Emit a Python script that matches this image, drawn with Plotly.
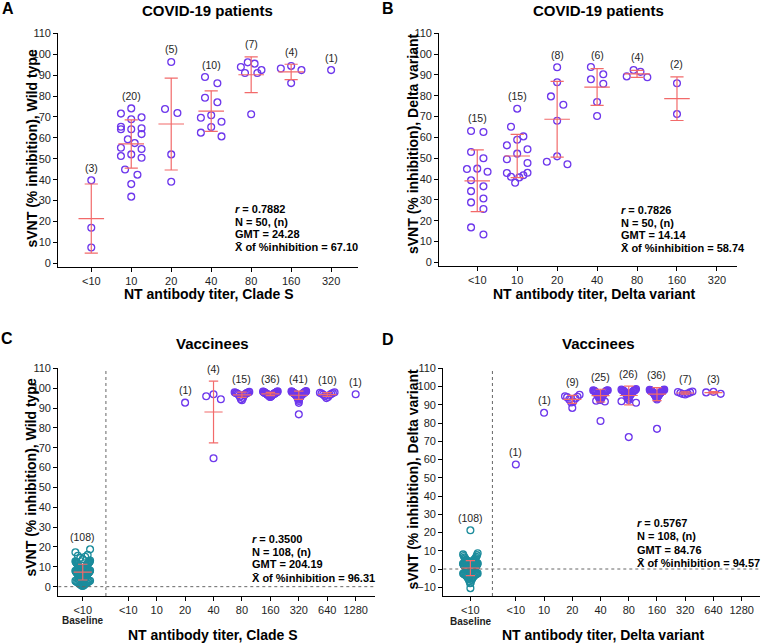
import numpy as np
import plotly.graph_objects as go

FIG_W, FIG_H = 763, 643

# ---------------- data ----------------
A_titers = ["<10", "10", "20", "40", "80", "160", "320"]
A_groups = [
    [39.7, 17.0, 7.6],
    [74.1, 71.6, 69.8, 68.9, 65.3, 64.1, 64.1, 64.6, 61.8, 59.3,
     57.5, 55.3, 54.7, 52.1, 50.5, 51.3, 44.9, 42.4, 37.9, 31.9],
    [96.3, 73.8, 71.9, 52.1, 39.0],
    [89.1, 86.1, 79.2, 77.0, 70.8, 69.6, 67.7, 65.2, 62.5, 60.7],
    [96.1, 95.5, 93.9, 92.4, 91.0, 91.0, 71.3],
    [94.4, 93.2, 92.4, 86.2],
    [92.4],
]
A_stats = ["<b><i>r</i> = 0.7882</b>", "<b>N = 50, (n)</b>", "<b>GMT = 24.28</b>",
           "<b>X\u0304 of %inhibition = 67.10</b>"]

B_titers = ["<10", "10", "20", "40", "80", "160", "320"]
B_groups = [
    [62.6, 63.1, 53.0, 50.0, 45.0, 44.8, 43.5, 39.4, 36.5, 34.2,
     30.7, 28.8, 25.6, 16.8, 13.4],
    [73.8, 65.1, 60.5, 58.9, 56.2, 54.3, 52.2, 49.5, 47.7, 42.9,
     43.0, 41.8, 41.1, 40.8, 38.2],
    [93.7, 86.5, 79.7, 75.7, 68.0, 50.9, 47.1, 48.3],
    [90.3, 93.8, 85.8, 87.9, 77.0, 70.3],
    [91.5, 88.9, 89.3, 92.4],
    [86.0, 71.2],
    [],
]
B_stats = ["<b><i>r</i> = 0.7826</b>", "<b>N = 50, (n)</b>", "<b>GMT = 14.14</b>",
           "<b>X\u0304 of %inhibition = 58.74</b>"]

C_titers = ["<10", "10", "20", "40", "80", "160", "320", "640", "1280"]
C_baseline = [
    18.8, 17.3, 16.0, 15.6, 15.1, 14.5, 13.9, 13.2, 12.8, 12.5, 12.2, 11.9,
    12.6, 12.4, 12.1, 11.9, 11.7, 11.5, 11.3, 11.1, 10.9, 10.7, 10.5, 10.3,
    10.1, 10.0, 9.9, 9.8, 9.7, 9.6, 9.5, 9.4, 9.3, 9.2, 9.1, 9.0,
    8.8, 8.7, 8.6, 8.5, 8.4, 8.3, 8.2, 8.1, 8.0, 7.9, 7.8, 7.7,
    7.6, 7.5, 7.4, 7.3, 7.2, 7.1, 7.0, 6.9, 6.8, 6.7, 6.6, 6.5,
    6.4, 6.3, 6.2, 6.1, 6.0, 5.9, 5.8, 5.7, 5.6, 5.5, 5.4, 5.3,
    5.2, 5.1, 5.0, 4.9, 4.8, 4.7, 4.6, 4.5, 4.4, 4.3, 4.2, 4.1,
    4.0, 3.9, 3.8, 3.7, 3.6, 3.5, 3.4, 3.2, 3.0, 2.9, 2.7, 2.5,
    2.4, 2.2, 2.0, 1.9, 1.7, 1.5, 1.3, 1.1, 0.9, 0.7, 0.5, 0.3,
]
C_groups = [
    [],
    [],
    [92.7],
    [96.9, 95.9, 94.4, 64.7],
    [98.1, 97.9, 97.8, 97.6, 97.6, 97.4, 97.3, 97.1, 96.9, 96.7,
     96.4, 95.7, 95.1, 94.4, 93.9],
    [98.4, 98.3, 98.2, 98.1, 98.0, 98.0, 97.9, 97.8, 97.8, 97.7,
     97.6, 97.6, 97.5, 97.4, 97.4, 97.3, 97.2, 97.2, 97.1, 97.0,
     97.0, 96.9, 96.8, 96.8, 96.7, 96.6, 96.5, 96.4, 96.3, 96.2,
     96.1, 96.0, 95.9, 95.8, 95.7, 95.6],
    [98.5, 98.4, 98.3, 98.2, 98.1, 98.0, 98.0, 97.9, 97.8, 97.8,
     97.7, 97.6, 97.5, 97.5, 97.4, 97.3, 97.2, 97.1, 97.0, 96.9,
     96.9, 96.8, 96.7, 96.6, 96.5, 96.4, 96.3, 96.2, 96.0, 95.8,
     95.6, 95.4, 95.2, 95.0, 94.8, 94.6, 94.2, 93.5, 92.6, 86.8,
     97.6],
    [97.9, 97.7, 97.5, 97.3, 97.1, 96.8, 96.5, 96.1, 95.6, 95.0],
    [96.9],
]
C_stats = ["<b><i>r</i> = 0.3500</b>", "<b>N = 108, (n)</b>", "<b>GMT = 204.19</b>",
           "<b>X\u0304 of %inhibition = 96.31</b>"]

D_titers = ["<10", "10", "20", "40", "80", "160", "320", "640", "1280"]
D_baseline = [
    21.2, 8.6, 8.0, 7.6, 7.1, 6.7, 6.3, 6.0, 5.7, 5.4, 5.1, 4.8,
    4.6, 4.4, 4.2, 4.0, 3.8, 3.6, 3.4, 3.3, 3.1, 3.0, 2.8, 2.7,
    2.5, 2.4, 2.3, 2.1, 2.0, 1.9, 1.8, 1.7, 1.6, 1.5, 1.4, 1.3,
    1.2, 1.1, 1.0, 0.9, 0.8, 0.7, 0.6, 0.5, 0.4, 0.3, 0.2, 0.1,
    0.0, -0.1, -0.2, -0.3, -0.4, -0.5, -0.6, -0.7, -0.8, -0.9, -1.0, -1.1,
    -1.2, -1.3, -1.4, -1.5, -1.6, -1.7, -1.8, -1.9, -2.0, -2.1, -2.2, -2.3,
    -2.4, -2.5, -2.6, -2.7, -2.8, -2.9, -3.0, -3.1, -3.3, -3.5, -3.7, -3.9,
    2.6, 2.2, 1.8, 1.4, 1.0, 0.6, 0.2, -0.2, -0.6, -1.0, -4.1, -4.4,
    -4.7, -5.0, -5.3, -5.6, -6.0, -6.6, -7.6, -7.8, -10.5, 3.5, 4.3, 5.0,
]
D_groups = [
    [57.3],
    [85.6],
    [95.5, 94.7, 94.4, 94.2, 93.5, 92.9, 91.8, 91.3, 88.3],
    [98.0, 97.9, 97.8, 97.7, 97.6, 97.5, 97.3, 97.1, 96.9, 96.7,
     96.5, 96.2, 95.9, 95.6, 95.3, 95.0, 94.6, 94.2, 93.8, 93.4,
     93.0, 92.6, 92.2, 91.8, 81.1],
    [98.6, 98.4, 98.2, 98.0, 97.9, 97.8, 97.7, 97.6, 97.4, 97.2,
     97.0, 96.8, 96.6, 96.4, 96.1, 95.8, 95.5, 95.2, 94.8, 94.4,
     93.9, 93.3, 92.6, 91.9, 91.1, 72.3],
    [98.3, 98.2, 98.1, 98.0, 98.0, 97.9, 97.8, 97.7, 97.6, 97.5,
     97.4, 97.3, 97.2, 97.1, 97.0, 96.9, 96.8, 96.7, 96.6, 96.5,
     96.4, 96.3, 96.1, 95.9, 95.7, 95.5, 95.3, 95.1, 94.9, 94.7,
     94.5, 94.3, 94.1, 93.6, 92.9, 76.8],
    [97.3, 97.0, 96.8, 96.5, 96.2, 95.9, 95.6],
    [96.8, 96.0, 97.1],
    [],
]
D_stats = ["<b><i>r</i> = 0.5767</b>", "<b>N = 108, (n)</b>", "<b>GMT = 84.76</b>",
           "<b>X\u0304 of %inhibition = 94.57</b>"]

# ---------------- styling / geometry ----------------
FONT = "Liberation Sans, Arial, sans-serif"
PURPLE = "#6E38EC"
TEAL = "#1C8C9C"
RED = "#F26A6A"
TXT = "#1e1e1e"


def px_x(p):
    return p / FIG_W


def px_y(p):
    return 1 - p / FIG_H


PANELS = [
    dict(key="A", titers=A_titers, groups=A_groups, base=None, stats=A_stats,
         x0=58.3, x1=358.3, y0=33.3, y1=266.7, xr=(-0.825, 6.68), yr=(-1.6, 110),
         yt=list(range(0, 111, 10)), baseline_pos=None, vline=None,
         title="COVID-19 patients", tpos=(207.5, 10), letter_pos=(7.5, 9),
         ytitle="sVNT (% inhibition), Wild type", ytpos=(31.5, 149),
         xtitle="NT antibody titer, Clade S", xtpos=(209, 294),
         stat_x=233, stat_y=[209.3, 221.9, 234.4, 247.3]),
    dict(key="B", titers=B_titers, groups=B_groups, base=None, stats=B_stats,
         x0=439.3, x1=737.3, y0=33.3, y1=265.7, xr=(-0.95, 6.51), yr=(-1.6, 110),
         yt=list(range(0, 111, 10)), baseline_pos=None, vline=None,
         title="COVID-19 patients", tpos=(598.3, 10), letter_pos=(388.5, 9),
         ytitle="sVNT (% inhibition), Delta variant", ytpos=(413, 144),
         xtitle="NT antibody titer, Delta variant", xtpos=(594, 294),
         stat_x=619, stat_y=[210, 222.7, 235.3, 248.3]),
    dict(key="C", titers=C_titers, groups=C_groups, base=C_baseline, stats=C_stats,
         x0=58.3, x1=375.0, y0=368.3, y1=596.0, xr=(-2.46, 8.68), yr=(-4.7, 110),
         yt=list(range(0, 111, 10)), baseline_pos=-1.60, vline=-0.785,
         title="Vaccinees", tpos=(212.6, 343.3), letter_pos=(7, 338),
         ytitle="sVNT (% inhibition), Wild type", ytpos=(30.5, 478),
         xtitle="NT antibody titer, Clade S", xtpos=(213, 635),
         stat_x=250, stat_y=[539.3, 551.7, 564.3, 577.7], blpos=(82.7, 620)),
    dict(key="D", titers=D_titers, groups=D_groups, base=D_baseline, stats=D_stats,
         x0=443.3, x1=760.0, y0=368.3, y1=596.0, xr=(-2.57, 8.65), yr=(-14.8, 110),
         yt=list(range(-10, 111, 10)), baseline_pos=-1.61, vline=-0.83,
         title="Vaccinees", tpos=(598.7, 343.3), letter_pos=(387.5, 339),
         ytitle="sVNT (% inhibition), Delta variant", ytpos=(412.5, 479),
         xtitle="NT antibody titer, Delta variant", xtpos=(603, 635),
         stat_x=635, stat_y=[522.7, 536.0, 550.0, 563.3], blpos=(470.7, 621)),
]


def swarm_x(vals, xc, xpu, ypu, half_w, pair_sp, bin_px=10.0):
    """GraphPad-like scatter spreading: bin by value, spread each bin sideways.
    Sparse bins put the highest point in the middle; crowded bins put the
    highest points at the edges (giving the 'heart' shaped clusters)."""
    n = len(vals)
    xs = [xc] * n
    order = sorted(range(n), key=lambda i: -vals[i])
    bins, cur = [], []
    for i in order:
        if cur and (vals[cur[0]] - vals[i]) * ypu > bin_px:
            bins.append(cur)
            cur = []
        cur.append(i)
    if cur:
        bins.append(cur)
    for b in bins:
        m = len(b)
        if m < 2:
            continue
        sp = min(pair_sp, 2 * half_w / (m - 1))
        offs = sorted([(k - (m - 1) / 2) * sp for k in range(m)], key=lambda o: (abs(o), o))
        if m > 5:
            offs = offs[::-1]
        for i, o in zip(b, offs):
            xs[i] = xc + o / xpu
    return xs


fig = go.Figure()
layout = dict(width=FIG_W, height=FIG_H, margin=dict(l=0, r=0, t=0, b=0),
              paper_bgcolor="white", plot_bgcolor="white", showlegend=False,
              font=dict(family=FONT, color=TXT))
annotations = []
shapes = []

for k, P in enumerate(PANELS):
    sfx = "" if k == 0 else str(k + 1)
    xa, ya = "x" + sfx, "y" + sfx
    xpu = (P["x1"] - P["x0"]) / (P["xr"][1] - P["xr"][0])
    ypu = (P["y1"] - P["y0"]) / (P["yr"][1] - P["yr"][0])
    half_w = 0.258 * xpu
    pair_sp = 0.31 * xpu

    positions = list(range(len(P["titers"])))
    tickvals = list(positions)
    ticktext = list(P["titers"])
    series = [(positions[i], P["groups"][i], PURPLE) for i in range(len(positions))]
    if P["base"] is not None:
        series = [(P["baseline_pos"], P["base"], TEAL)] + series
        tickvals = [P["baseline_pos"]] + tickvals
        ticktext = ["<10"] + ticktext

    ex, ey = [], []
    for xc, vals, col in series:
        if len(vals) == 0:
            continue
        xs = swarm_x(vals, xc, xpu, ypu, half_w, pair_sp)
        fig.add_trace(go.Scatter(
            x=xs, y=vals, xaxis=xa, yaxis=ya, mode="markers", hoverinfo="skip",
            marker=dict(symbol="circle-open", size=6.8, color=col, line=dict(width=1.3, color=col))))
        top = max(vals)
        if len(vals) >= 2:
            m = float(np.mean(vals))
            sd = float(np.std(vals, ddof=1))
            top = max(top, m + sd)
            hw, cw = 0.32, 0.165
            ex += [xc - hw, xc + hw, None, xc, xc, None,
                   xc - cw, xc + cw, None, xc - cw, xc + cw, None]
            ey += [m, m, None, m - sd, m + sd, None,
                   m + sd, m + sd, None, m - sd, m - sd, None]
        annotations.append(dict(x=xc, y=top + 12.5 / ypu, xref=xa, yref=ya,
                                text="(%d)" % len(vals), showarrow=False,
                                font=dict(size=10.5, color=TXT, family=FONT),
                                xanchor="center", yanchor="middle"))
    if ex:
        fig.add_trace(go.Scatter(x=ex, y=ey, xaxis=xa, yaxis=ya, mode="lines",
                                 hoverinfo="skip", line=dict(color=RED, width=1.2)))

    # axes
    layout["xaxis" + sfx] = dict(
        domain=[px_x(P["x0"]), px_x(P["x1"])], range=list(P["xr"]), anchor=ya,
        tickvals=tickvals, ticktext=ticktext, showgrid=False, zeroline=False,
        showline=True, linecolor="black", linewidth=1.3, ticks="outside",
        ticklen=4, tickwidth=1.1, tickcolor="black",
        tickfont=dict(size=11, color=TXT, family=FONT), automargin=False)
    layout["yaxis" + sfx] = dict(
        domain=[px_y(P["y1"]), px_y(P["y0"])], range=list(P["yr"]), anchor=xa,
        tickvals=P["yt"], showgrid=False, zeroline=False,
        showline=True, linecolor="black", linewidth=1.3, ticks="outside",
        ticklen=4, tickwidth=1.1, tickcolor="black",
        tickfont=dict(size=11, color=TXT, family=FONT), automargin=False)

    if P["vline"] is not None:
        shapes.append(dict(type="line", xref=xa, yref=ya, x0=P["xr"][0], x1=P["xr"][1],
                           y0=0, y1=0, line=dict(color="#666", width=1, dash="dot")))
        shapes.append(dict(type="line", xref=xa, yref=ya, x0=P["vline"], x1=P["vline"],
                           y0=P["yr"][0], y1=110, line=dict(color="#666", width=1, dash="dot")))
        annotations.append(dict(x=px_x(P["blpos"][0]), y=px_y(P["blpos"][1]), xref="paper",
                                yref="paper", text="<b>Baseline</b>", showarrow=False,
                                font=dict(size=10, color=TXT, family=FONT),
                                xanchor="center", yanchor="middle"))

    # titles / labels
    annotations.append(dict(x=px_x(P["tpos"][0]), y=px_y(P["tpos"][1]), xref="paper", yref="paper",
                            text="<b>%s</b>" % P["title"], showarrow=False,
                            font=dict(size=15, color="black", family=FONT),
                            xanchor="center", yanchor="middle"))
    annotations.append(dict(x=px_x(P["letter_pos"][0]), y=px_y(P["letter_pos"][1]), xref="paper",
                            yref="paper", text="<b>%s</b>" % P["key"], showarrow=False,
                            font=dict(size=16, color="black", family=FONT),
                            xanchor="center", yanchor="middle"))
    annotations.append(dict(x=px_x(P["ytpos"][0]), y=px_y(P["ytpos"][1]), xref="paper", yref="paper",
                            text="<b>%s</b>" % P["ytitle"], showarrow=False, textangle=-90,
                            font=dict(size=14, color="black", family=FONT),
                            xanchor="center", yanchor="middle"))
    annotations.append(dict(x=px_x(P["xtpos"][0]), y=px_y(P["xtpos"][1]), xref="paper", yref="paper",
                            text="<b>%s</b>" % P["xtitle"], showarrow=False,
                            font=dict(size=14, color="black", family=FONT),
                            xanchor="center", yanchor="middle"))
    for line, yy in zip(P["stats"], P["stat_y"]):
        annotations.append(dict(x=px_x(P["stat_x"]), y=px_y(yy), xref="paper", yref="paper",
                                text=line, showarrow=False,
                                font=dict(size=11, color="black", family=FONT),
                                xanchor="left", yanchor="middle"))

layout["annotations"] = annotations
layout["shapes"] = shapes
fig.update_layout(**layout)
# remove the browser's default 8px page margin so the figure sits at (0, 0)
fig.write_html("out.html", config={"displayModeBar": False},
               post_script="document.body.style.margin='0px';")
